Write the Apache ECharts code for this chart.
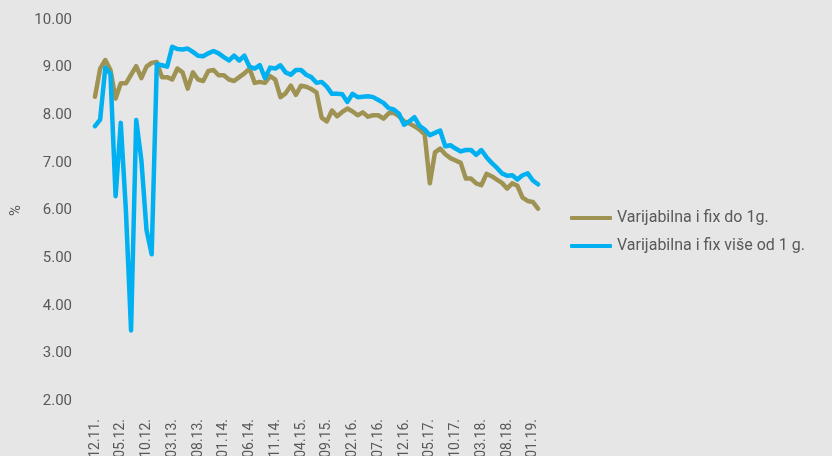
<!DOCTYPE html>
<html>
<head>
<meta charset="utf-8">
<script src="https://cdn.jsdelivr.net/npm/echarts@6/dist/echarts.min.js"></script>
<style>
  html, body { margin: 0; padding: 0; background: #e6e6e6; }
  #chart { width: 832px; height: 456px; }
</style>
</head>
<body>
<div id="chart"></div>
<script>
// months 12.11. .. 02.19.
var months = [
  '12.11.',
  '01.12.','02.12.','03.12.','04.12.','05.12.','06.12.','07.12.','08.12.','09.12.','10.12.','11.12.','12.12.',
  '01.13.','02.13.','03.13.','04.13.','05.13.','06.13.','07.13.','08.13.','09.13.','10.13.','11.13.','12.13.',
  '01.14.','02.14.','03.14.','04.14.','05.14.','06.14.','07.14.','08.14.','09.14.','10.14.','11.14.','12.14.',
  '01.15.','02.15.','03.15.','04.15.','05.15.','06.15.','07.15.','08.15.','09.15.','10.15.','11.15.','12.15.',
  '01.16.','02.16.','03.16.','04.16.','05.16.','06.16.','07.16.','08.16.','09.16.','10.16.','11.16.','12.16.',
  '01.17.','02.17.','03.17.','04.17.','05.17.','06.17.','07.17.','08.17.','09.17.','10.17.','11.17.','12.17.',
  '01.18.','02.18.','03.18.','04.18.','05.18.','06.18.','07.18.','08.18.','09.18.','10.18.','11.18.','12.18.',
  '01.19.','02.19.'
];

var doJedneGodine = [
  8.39, 8.98, 9.16, 8.95, 8.35, 8.67, 8.67, 8.85, 9.03, 8.78, 9.02, 9.10,
  9.12, 8.80, 8.80, 8.75, 8.98, 8.90, 8.56, 8.90, 8.75, 8.72, 8.93, 8.95,
  8.84, 8.84, 8.75, 8.72, 8.80, 8.88, 8.98, 8.68, 8.70, 8.68, 8.82, 8.75,
  8.38, 8.46, 8.62, 8.43, 8.62, 8.60, 8.55, 8.48, 7.95, 7.87, 8.10, 7.98,
  8.07, 8.14, 8.08, 8.00, 8.06, 7.97, 8.00, 8.00, 7.93, 8.04, 8.05, 7.98,
  7.87, 7.83, 7.77, 7.70, 7.60, 6.57, 7.22, 7.30, 7.18, 7.10, 7.05, 7.00,
  6.67, 6.67, 6.57, 6.53, 6.77, 6.72, 6.65, 6.58, 6.46, 6.57, 6.52, 6.27,
  6.20, 6.18, 6.04
];

var viseOdGodine = [
  7.77, 7.91, 9.00, 8.87, 6.30, 7.84, 6.00, 3.48, 7.90, 7.06, 5.59, 5.08,
  9.07, 9.05, 9.02, 9.44, 9.39, 9.38, 9.40, 9.33, 9.25, 9.24, 9.30, 9.35,
  9.30, 9.22, 9.15, 9.25, 9.15, 9.25, 9.02, 8.98, 9.05, 8.78, 9.00, 8.98,
  9.05, 8.90, 8.85, 8.95, 8.95, 8.85, 8.80, 8.68, 8.70, 8.60, 8.45, 8.45,
  8.44, 8.28, 8.45, 8.38, 8.39, 8.40, 8.38, 8.32, 8.26, 8.15, 8.12, 8.03,
  7.80, 7.87, 7.96, 7.78, 7.70, 7.58, 7.63, 7.68, 7.35, 7.37, 7.30, 7.24,
  7.27, 7.27, 7.17, 7.27, 7.12, 7.00, 6.90, 6.78, 6.73, 6.74, 6.65, 6.74,
  6.78, 6.63, 6.55
];

var seriesNames = ['Varijabilna i fix do 1g.', 'Varijabilna i fix više od 1 g.'];
var colors = ['#9f9354', '#00b0f0'];

var chart = echarts.init(document.getElementById('chart'));
var font = 'Roboto, "Noto Sans", sans-serif';

chart.setOption({
  animation: false,
  backgroundColor: '#e6e6e6',
  color: colors,
  textStyle: { fontFamily: font },
  grid: { left: 95, right: 294, top: 20, bottom: 55, outerBoundsMode: 'none', containLabel: false },
  legend: {
    orient: 'vertical',
    left: 570,
    top: 209,
    padding: 0,
    itemWidth: 42,
    itemHeight: 4,
    itemGap: 10,
    icon: 'roundRect',
    data: seriesNames,
    textStyle: { color: '#595959', fontSize: 16, fontFamily: font, lineHeight: 18 }
  },
  xAxis: {
    type: 'category',
    data: months,
    boundaryGap: false,
    axisLine: { show: false },
    axisTick: { show: false },
    axisLabel: {
      interval: 4,
      rotate: 90,
      margin: 18,
      color: '#595959',
      fontSize: 14,
      fontFamily: font
    }
  },
  yAxis: {
    type: 'value',
    min: 2,
    max: 10,
    interval: 1,
    name: '%',
    nameLocation: 'middle',
    nameGap: 57,
    nameTextStyle: { color: '#595959', fontSize: 15, fontFamily: font },
    axisLine: { show: false },
    axisTick: { show: false },
    splitLine: { show: false },
    axisLabel: {
      margin: 23,
      color: '#595959',
      fontSize: 15,
      fontFamily: font,
      formatter: function (v) { return v.toFixed(2); }
    }
  },
  series: [
    {
      name: seriesNames[0],
      type: 'line',
      data: doJedneGodine,
      symbol: 'none',
      lineStyle: { width: 4.5, cap: 'round', join: 'round' }
    },
    {
      name: seriesNames[1],
      type: 'line',
      data: viseOdGodine,
      symbol: 'none',
      lineStyle: { width: 4.5, cap: 'round', join: 'round' }
    }
  ]
});
</script>
</body>
</html>
